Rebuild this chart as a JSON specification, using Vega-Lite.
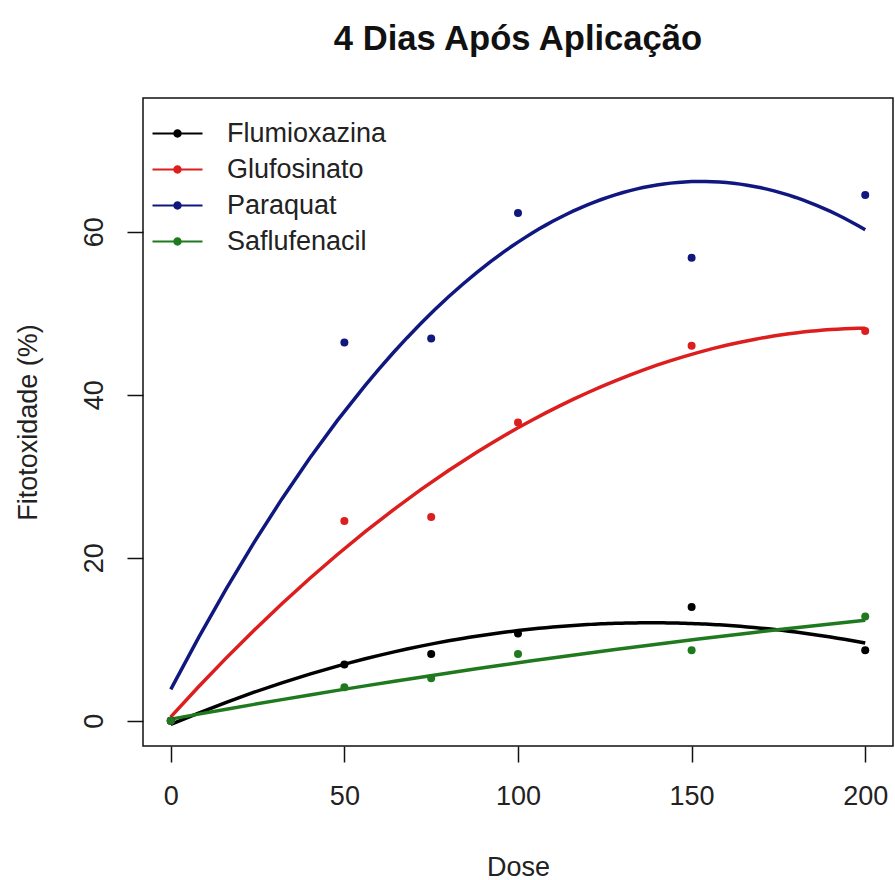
{
  "$schema": "https://vega.github.io/schema/vega-lite/v6.json",
  "width": 750,
  "height": 648,
  "autosize": {"type": "none"},
  "padding": {"left": 143, "top": 98, "right": 2, "bottom": 134},
  "background": "white",
  "config": {
    "font": "Liberation Sans",
    "view": {"stroke": "#111111", "strokeWidth": 1.5},
    "axis": {
      "grid": false,
      "domain": false,
      "tickColor": "#111111",
      "tickWidth": 1.5,
      "tickSize": 16,
      "labelFontSize": 27,
      "labelColor": "#222222",
      "labelFont": "Liberation Sans",
      "titleFontSize": 27,
      "titleFontWeight": "normal",
      "titleColor": "#222222",
      "titleFont": "Liberation Sans"
    },
    "legend": {
      "title": null,
      "orient": "none",
      "legendX": 21,
      "legendY": 22,
      "padding": 0,
      "labelFontSize": 27,
      "labelColor": "#222222",
      "labelFont": "Liberation Sans",
      "labelOffset": 36,
      "rowPadding": 8,
      "symbolSize": 400,
      "symbolStrokeWidth": 0,
      "symbolType": "M-2.5,-0.1L2.5,-0.1L2.5,0.1L-2.5,0.1Z M-0.42,0A0.42,0.42 0 1,1 0.42,0A0.42,0.42 0 1,1 -0.42,0Z",
      "symbolOpacity": 1
    }
  },
  "title": {
    "text": "4 Dias Após Aplicação",
    "fontSize": 34.6,
    "fontWeight": "bold",
    "font": "Liberation Sans",
    "color": "#111111",
    "anchor": "middle",
    "baseline": "alphabetic",
    "offset": 13
  },
  "data": {
    "values": [
      {"herbicide": "Flumioxazina", "dose": 0, "fito": 0},
      {"herbicide": "Flumioxazina", "dose": 50, "fito": 6.9},
      {"herbicide": "Flumioxazina", "dose": 75, "fito": 8.2},
      {"herbicide": "Flumioxazina", "dose": 100, "fito": 10.7},
      {"herbicide": "Flumioxazina", "dose": 150, "fito": 13.95},
      {"herbicide": "Flumioxazina", "dose": 200, "fito": 8.65},
      {"herbicide": "Glufosinato", "dose": 0, "fito": 0},
      {"herbicide": "Glufosinato", "dose": 50, "fito": 24.5},
      {"herbicide": "Glufosinato", "dose": 75, "fito": 25.0},
      {"herbicide": "Glufosinato", "dose": 100, "fito": 36.6},
      {"herbicide": "Glufosinato", "dose": 150, "fito": 46.0},
      {"herbicide": "Glufosinato", "dose": 200, "fito": 47.8},
      {"herbicide": "Paraquat", "dose": 0, "fito": 0},
      {"herbicide": "Paraquat", "dose": 50, "fito": 46.4},
      {"herbicide": "Paraquat", "dose": 75, "fito": 46.9},
      {"herbicide": "Paraquat", "dose": 100, "fito": 62.3},
      {"herbicide": "Paraquat", "dose": 150, "fito": 56.8},
      {"herbicide": "Paraquat", "dose": 200, "fito": 64.5},
      {"herbicide": "Saflufenacil", "dose": 0, "fito": 0},
      {"herbicide": "Saflufenacil", "dose": 50, "fito": 4.1},
      {"herbicide": "Saflufenacil", "dose": 75, "fito": 5.2},
      {"herbicide": "Saflufenacil", "dose": 100, "fito": 8.2},
      {"herbicide": "Saflufenacil", "dose": 150, "fito": 8.65},
      {"herbicide": "Saflufenacil", "dose": 200, "fito": 12.8}
    ]
  },
  "layer": [
    {
      "transform": [
        {"regression": "fito", "on": "dose", "groupby": ["herbicide"], "method": "poly", "order": 2, "extent": [0, 200]}
      ],
      "mark": {"type": "line", "strokeWidth": 3.5, "clip": true},
      "encoding": {
        "x": {"field": "dose", "type": "quantitative"},
        "y": {"field": "fito", "type": "quantitative"},
        "color": {"field": "herbicide", "type": "nominal"},
        "detail": {"field": "herbicide"}
      }
    },
    {
      "mark": {"type": "point", "filled": true, "size": 64, "opacity": 1},
      "encoding": {
        "x": {
          "field": "dose",
          "type": "quantitative",
          "scale": {"domain": [-8, 208], "nice": false, "zero": false},
          "axis": {"values": [0, 50, 100, 150, 200], "title": "Dose", "labelPadding": 21, "titlePadding": 45}
        },
        "y": {
          "field": "fito",
          "type": "quantitative",
          "scale": {"domain": [-3.1, 76.4], "nice": false, "zero": false},
          "axis": {"values": [0, 20, 40, 60], "title": "Fitotoxidade (%)", "labelAngle": -90, "labelPadding": 19, "titlePadding": 38}
        },
        "color": {
          "field": "herbicide",
          "type": "nominal",
          "scale": {
            "domain": ["Flumioxazina", "Glufosinato", "Paraquat", "Saflufenacil"],
            "range": ["#000000", "#DC1E1E", "#101880", "#1F7A1F"]
          },
          "legend": {
            "encode": {
              "symbols": {
                "update": {
                  "fill": {"scale": "color", "field": "value"},
                  "stroke": {"value": "transparent"},
                  "opacity": {"value": 1}
                }
              }
            }
          }
        }
      }
    }
  ]
}
